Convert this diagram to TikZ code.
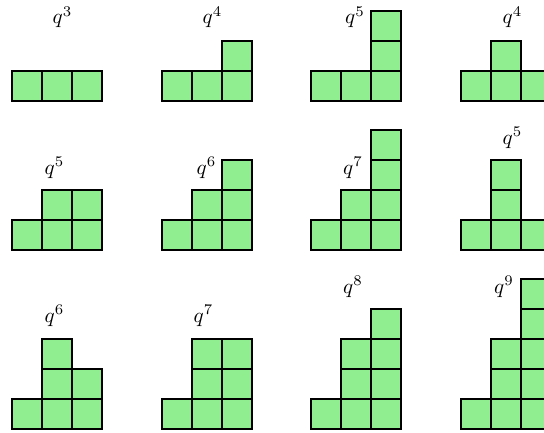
\documentclass[tikz,border=0pt]{standalone}
\definecolor{lightgreen}{HTML}{90EE90}
\begin{document}
\begin{tikzpicture}[x=0.4742pt,y=0.4742pt,
  cell/.style={fill=lightgreen,draw=black,line width=0.95pt},
  lab/.style={anchor=base,inner sep=0pt}]
\useasboundingbox (0,0) rectangle (544,432);
\clip (0,0) rectangle (544,432);
\foreach \gx/\gy/\ha/\hb/\hc in {
  12/331/1/1/1, 161.5/331/1/1/2, 311/331/1/1/3, 460.5/331/1/2/1,
  12/182/1/2/2, 161.5/182/1/2/3, 311/182/1/2/4, 460.5/182/1/3/1,
  12/3/1/3/2, 161.5/3/1/3/3, 311/3/1/3/4, 460.5/3/1/3/5}{
  \foreach \c/\h in {0/\ha,1/\hb,2/\hc}{
    \foreach \j in {1,...,\h}{
      \filldraw[cell] ({\gx+30*\c},{\gy+30*(\j-1)}) rectangle ++(30,30);
    }
  }
}
\node[lab] (l1) at (62.5,408) {$q^3$};
\node[lab] (l2) at (212.5,408) {$q^4$};
\node[lab] (l3) at (355,408) {$q^5$};
\node[lab] (l4) at (512.5,408) {$q^4$};
\node[lab] (l5) at (54.5,258) {$q^5$};
\node[lab] (l6) at (206.5,258) {$q^6$};
\node[lab] (l7) at (353,258) {$q^7$};
\node[lab] (l8) at (512.5,288) {$q^5$};
\node[lab] (l9) at (54.5,110) {$q^6$};
\node[lab] (l10) at (203.5,110) {$q^7$};
\node[lab] (l11) at (353,139) {$q^8$};
\node[lab] (l12) at (504,139) {$q^9$};
\end{tikzpicture}
\end{document}
